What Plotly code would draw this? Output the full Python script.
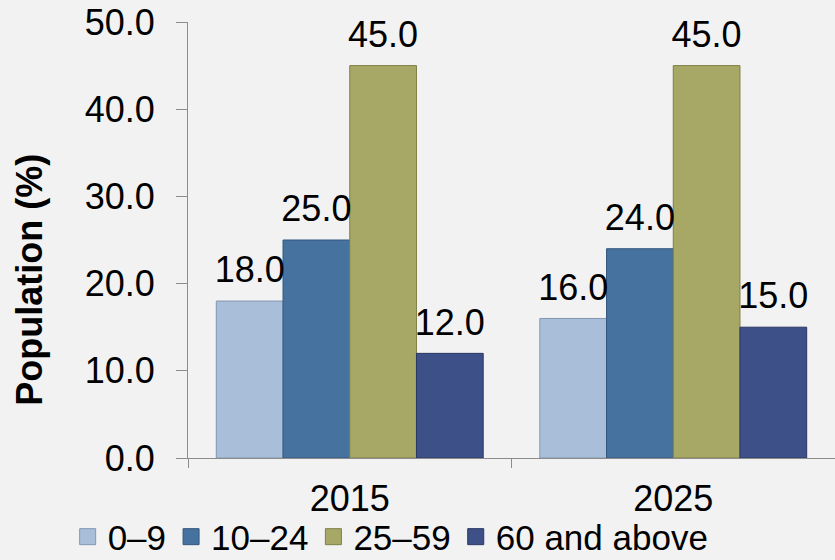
import plotly.graph_objects as go

categories = ["2015", "2025"]
series_names = ["0–9", "10–24", "25–59", "60 and above"]
values_0_9 = [18.0, 16.0]
values_10_24 = [25.0, 24.0]
values_25_59 = [45.0, 45.0]
values_60_plus = [12.0, 15.0]
y_ticks = [0, 10, 20, 30, 40, 50]

colors = ["#a9bed8", "#46729f", "#a7a866", "#3d5087"]
lines = ["#8397b1", "#33577e", "#7f8046", "#2a3864"]

FONT = 36
series_values = [values_0_9, values_10_24, values_25_59, values_60_plus]

fig = go.Figure()
for i, (name, vals, c, lc) in enumerate(zip(series_names, series_values, colors, lines)):
    fig.add_trace(go.Bar(
        x=categories, y=vals, name=name, showlegend=False, offsetgroup=str(i),
        marker=dict(color=c, line=dict(color=lc, width=1)),
    ))
for i, (name, vals) in enumerate(zip(series_names, series_values)):
    fig.add_trace(go.Scatter(
        x=categories, y=vals, mode="markers+text", showlegend=False, offsetgroup=str(i),
        marker=dict(size=14, opacity=0), hoverinfo="skip",
        text=[f"{v:.1f}" for v in vals], textposition="top center",
        textfont=dict(size=FONT, color="black"), cliponaxis=False,
    ))
for name, c, lc in zip(series_names, colors, lines):
    fig.add_trace(go.Scatter(
        x=[None], y=[None], mode="markers", name=name,
        marker=dict(symbol="square", size=20, color=c, line=dict(color=lc, width=1)),
    ))

fig.add_annotation(
    text="<b>Population (%)</b>", xref="paper", yref="paper",
    x=-0.245, y=0.41, xanchor="center", yanchor="middle", textangle=-90,
    showarrow=False, font=dict(size=FONT, color="black"),
)

fig.update_layout(
    width=835, height=560,
    paper_bgcolor="#f2f2f2", plot_bgcolor="#f2f2f2",
    margin=dict(l=188, r=0, t=22, b=102, autoexpand=False),
    barmode="group", bargap=0.175, bargroupgap=0,
    scattermode="group", scattergap=0.175,
    font=dict(family="Liberation Sans, Arial, sans-serif", size=FONT, color="black"),
    showlegend=True,
    legend=dict(orientation="h", x=-0.186, xanchor="left", y=-0.181, yanchor="middle",
                font=dict(size=35), itemsizing="trace", bgcolor="rgba(0,0,0,0)",
                tracegroupgap=0),
    xaxis=dict(showline=True, linecolor="#8c8c8c", linewidth=1, ticks="outside",
               tickson="boundaries", ticklen=9, tickcolor="#8c8c8c",
               tickfont=dict(size=FONT), showgrid=False, ticklabelstandoff=9),
    yaxis=dict(range=[0, 50], tickvals=y_ticks, tickformat=".1f", showline=True,
               linecolor="#8c8c8c", linewidth=1, ticks="outside", ticklen=11,
               tickcolor="#8c8c8c", showgrid=False, zeroline=False,
               tickfont=dict(size=FONT), ticklabelstandoff=14),
)
fig.write_html(
    "out.html",
    config={"displayModeBar": False},
    post_script="document.body.style.margin='0';document.body.style.background='#f2f2f2';",
)
